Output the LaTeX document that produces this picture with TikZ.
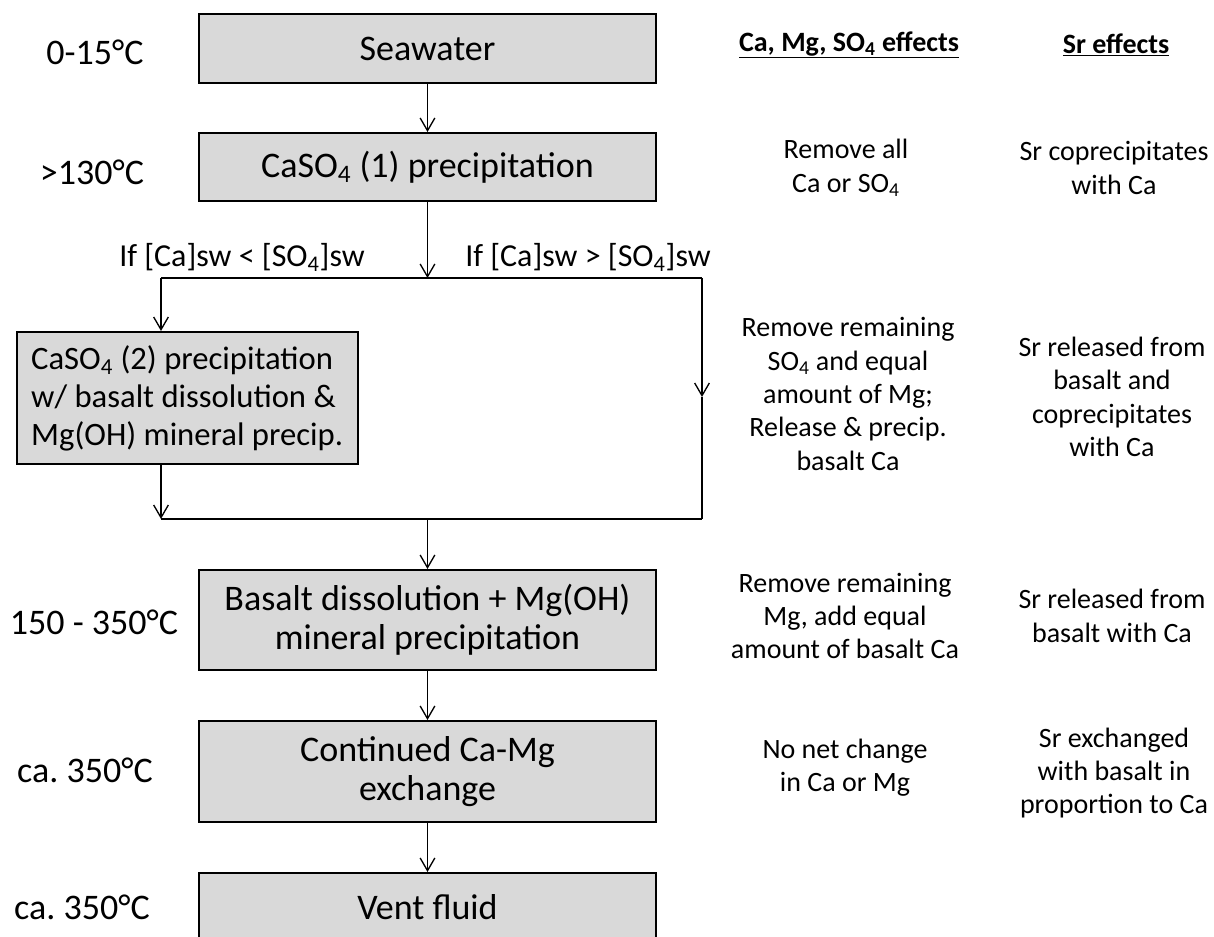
\documentclass[tikz,border=0pt]{standalone}
\usepackage{fontspec}
\setmainfont{Carlito}
\usetikzlibrary{arrows.meta}
\tikzset{
        stage/.style={draw=black, line width=1.5pt, fill=black!15, minimum width=342.75pt, inner sep=0pt, align=center, font=\fontsize{27}{29}\selectfont},
        temp/.style={font=\fontsize{27}{29}\selectfont},
        cond/.style={font=\fontsize{24}{28}\selectfont},
        effect/.style={align=center, inner sep=0pt, font=\fontsize{21}{25}\selectfont},
        head/.style={effect, font=\fontsize{21}{25}\selectfont\bfseries},
        flow/.style={line width=1pt, -{Straight Barb[length=9.5pt,width=11pt]}},
        link/.style={line width=1pt}
          }
\begin{document}
\begin{tikzpicture}[x=0.75pt, y=-0.75pt]
  \useasboundingbox (0,0) rectangle (1214,937);
  \clip (0,0) rectangle (1214,937);
  % stages
  \node[stage, minimum height=51.75pt] (sea) at (427.5,48.5) {Seawater};
  \node[stage, minimum height=51pt] (cas1) at (427.5,167) {CaSO\textsubscript{4} (1) precipitation};
  \node[stage, minimum width=255.75pt, minimum height=99pt, align=left, anchor=west,
        font=\fontsize{24.5}{28.5}\selectfont] (cas2) at (15.6,398)
    {CaSO\textsubscript{4} (2) precipitation\\w/ basalt dissolution \&\\Mg(OH) mineral precip.};
  \node[stage, minimum height=75pt] (basalt) at (427.5,620) {Basalt dissolution + Mg(OH)\\mineral precipitation};
  \node[stage, minimum height=75.75pt] (exch) at (427.5,771.5) {Continued Ca-Mg\\exchange};
  \node[stage, minimum height=51.75pt] (vent) at (427.5,907.5) {Vent fluid};
  % temperatures
  \node[temp] (t1) at (95,52) {0-15°C};
  \node[temp] (t2) at (92,172) {>130°C};
  \node[temp] (t3) at (94,622) {150 - 350°C};
  \node[temp] (t4) at (85,770) {ca.\ 350°C};
  \node[temp] (t5) at (82,907) {ca.\ 350°C};
  % branch conditions
  \node[cond] (lt) at (242,257) {If [Ca]sw < [SO\textsubscript{4}]sw};
  \node[cond] (gt) at (588,257) {If [Ca]sw > [SO\textsubscript{4}]sw};
  % effects columns
  \node[head] (hca) at (849,45) {\underline{Ca, Mg, SO\textsubscript{4} effects}};
  \node[head] (hsr) at (1116,45) {\underline{Sr effects}};
  \node[effect] (eca1) at (846,168) {Remove all\\Ca or SO\textsubscript{4}};
  \node[effect] (esr1) at (1114,168) {Sr coprecipitates\\with Ca};
  \node[effect] (eca2) at (848,394) {Remove remaining\\SO\textsubscript{4} and equal\\amount of Mg;\\Release \& precip.\\basalt Ca};
  \node[effect] (esr2) at (1112,397) {Sr released from\\basalt and\\coprecipitates\\with Ca};
  \node[effect] (eca3) at (845,616) {Remove remaining\\Mg, add equal\\amount of basalt Ca};
  \node[effect] (esr3) at (1112,616) {Sr released from\\basalt with Ca};
  \node[effect] (eca4) at (845,768) {No net change\\in Ca or Mg};
  \node[effect] (esr4) at (1114,773) {Sr exchanged\\with basalt in\\proportion to Ca};
  % connectors
  \coordinate (split) at (427.5,278);
  \coordinate (splitL) at (161,278);
  \coordinate (splitR) at (702,278);
  \coordinate (midR) at (702,397);
  \coordinate (join) at (427.5,519);
  \coordinate (joinL) at (161,519);
  \coordinate (joinR) at (702,519);
  \draw[flow] (sea) -- (cas1);
  \draw[flow] (cas1) -- (split);
  \draw[link] (splitL) -- (splitR);
  \draw[flow] (splitL) -- (splitL |- cas2.north);
  \draw[flow] (splitR) -- (midR);
  \draw[link] (midR) -- (joinR);
  \draw[flow] (cas2.south -| joinL) -- (joinL);
  \draw[link] (joinL) -- (joinR);
  \draw[flow] (join) -- (basalt);
  \draw[flow] (basalt) -- (exch);
  \draw[flow] (exch) -- (vent);
\end{tikzpicture}
\end{document}
